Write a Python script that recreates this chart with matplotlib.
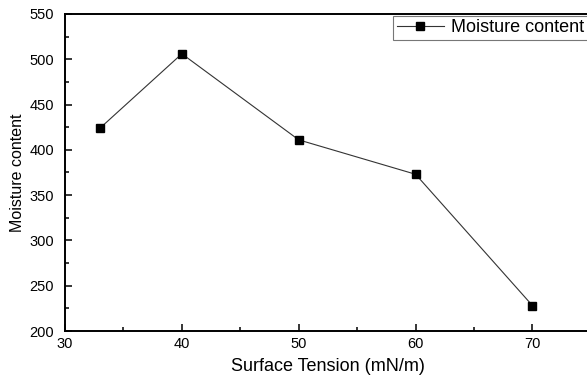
import matplotlib.pyplot as plt
from matplotlib.ticker import MultipleLocator

# data
surface_tension = [33, 40, 50, 60, 70]
moisture = [424, 506, 411, 373, 228]

plt.rcParams['font.family'] = ['Liberation Sans', 'DejaVu Sans']

fig = plt.figure(figsize=(5.87, 3.77), dpi=100)
# axes runs slightly past the right edge of the image, like the reference
ax = fig.add_axes([0.1107, 0.122, 0.896, 0.841])

ax.plot(surface_tension, moisture, '-', color='#333333', lw=0.8,
        marker='s', markersize=5.5, markerfacecolor='black',
        markeredgecolor='black', label='Moisture content')

ax.set_xlim(30, 75)
ax.set_ylim(200, 550)
ax.xaxis.set_major_locator(MultipleLocator(10))
ax.xaxis.set_minor_locator(MultipleLocator(5))
ax.yaxis.set_major_locator(MultipleLocator(50))
ax.yaxis.set_minor_locator(MultipleLocator(25))
ax.tick_params(which='both', direction='in', labelsize=10.5, width=1.1, pad=4)
ax.tick_params(which='major', length=5)
ax.tick_params(which='minor', length=3)
ax.tick_params(axis='y', pad=8)
for s in ax.spines.values():
    s.set_linewidth(1.4)

ax.set_xlabel('Surface Tension (mN/m)', fontsize=13, labelpad=5)
ax.set_ylabel('Moisture content', fontsize=11.5, labelpad=3)

leg = ax.legend(loc='upper right', bbox_to_anchor=(0.9935, 0.995), fontsize=13,
                frameon=True, fancybox=False, edgecolor='#555555',
                handlelength=2.6, borderpad=0.2, handletextpad=0.4,
                borderaxespad=0.0)
leg.get_frame().set_linewidth(0.8)

fig.savefig('out.png', dpi=100)
